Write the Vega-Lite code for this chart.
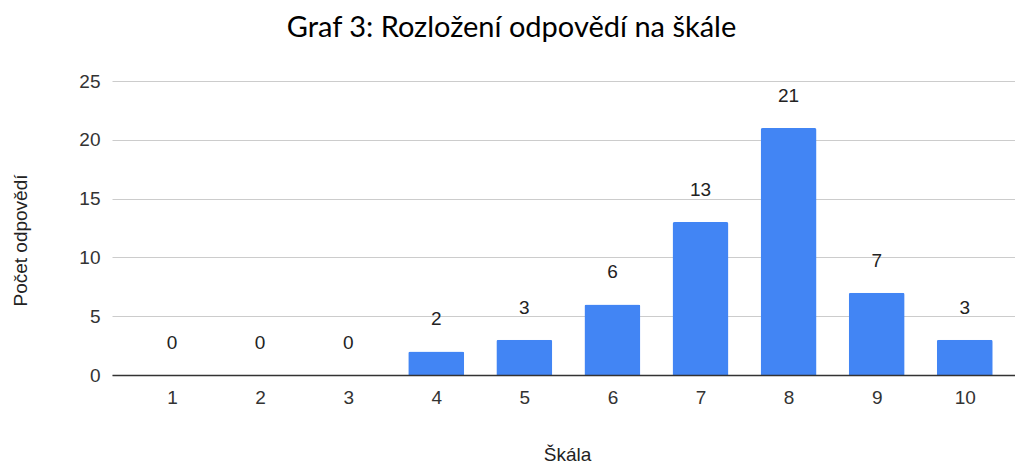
{
  "$schema": "https://vega.github.io/schema/vega-lite/v6.json",
  "autosize": "none",
  "width": 903,
  "height": 294,
  "padding": {"left": 112, "top": 81, "right": 0, "bottom": 88},
  "background": "white",
  "title": {
    "text": "Graf 3: Rozložení odpovědí na škále",
    "font": "Lato",
    "fontSize": 29,
    "fontWeight": "normal",
    "color": "#000000",
    "anchor": "middle",
    "dx": -52,
    "offset": 29
  },
  "config": {
    "view": {"stroke": null},
    "axis": {
      "labelFont": "Liberation Sans",
      "titleFont": "Liberation Sans",
      "labelFontSize": 19,
      "titleFontSize": 19,
      "labelColor": "#333333",
      "titleColor": "#222222",
      "titleFontWeight": "normal"
    }
  },
  "data": {
    "values": [
      {"skala": 1, "pocet": 0},
      {"skala": 2, "pocet": 0},
      {"skala": 3, "pocet": 0},
      {"skala": 4, "pocet": 2},
      {"skala": 5, "pocet": 3},
      {"skala": 6, "pocet": 6},
      {"skala": 7, "pocet": 13},
      {"skala": 8, "pocet": 21},
      {"skala": 9, "pocet": 7},
      {"skala": 10, "pocet": 3}
    ]
  },
  "encoding": {
    "x": {
      "field": "skala",
      "type": "quantitative",
      "scale": {"domain": [0.319, 10.57], "nice": false, "zero": false, "padding": 0},
      "axis": {
        "title": "Škála",
        "values": [1, 2, 3, 4, 5, 6, 7, 8, 9, 10],
        "format": "d",
        "grid": false,
        "ticks": false,
        "labelPadding": 13,
        "domainColor": "#333333",
        "domainWidth": 1.5,
        "zindex": 1,
        "titleX": 455,
        "titleY": 85,
        "titleBaseline": "alphabetic",
        "titleAlign": "center"
      }
    },
    "y": {
      "field": "pocet",
      "type": "quantitative",
      "scale": {"domain": [0, 25], "nice": false},
      "axis": {
        "title": "Počet odpovědí",
        "values": [0, 5, 10, 15, 20, 25],
        "grid": true,
        "gridColor": "#cccccc",
        "gridWidth": 1,
        "ticks": false,
        "domain": false,
        "labelPadding": 12,
        "titleAngle": -90,
        "titleX": -92,
        "titleY": 159,
        "titleAlign": "center",
        "titleBaseline": "middle"
      }
    }
  },
  "layer": [
    {
      "mark": {"type": "bar", "size": 56, "color": "#4285F4", "cornerRadiusEnd": 2}
    },
    {
      "mark": {
        "type": "text",
        "font": "Liberation Sans",
        "fontSize": 19,
        "color": "#222222",
        "baseline": "alphabetic",
        "dy": -26
      },
      "encoding": {"text": {"field": "pocet", "type": "quantitative"}}
    }
  ]
}
